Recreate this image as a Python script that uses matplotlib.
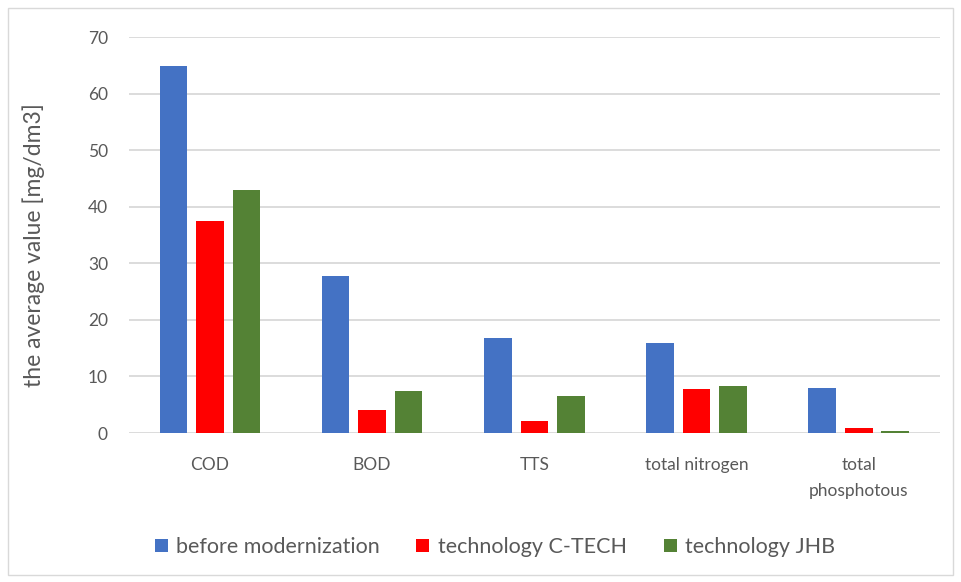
import numpy as np
import matplotlib.pyplot as plt
from matplotlib.patches import Rectangle

plt.rcParams['font.family'] = ['Lato', 'DejaVu Sans']

categories = ['COD', 'BOD', 'TTS', 'total nitrogen', 'total\nphosphotous']
before = [65.0, 27.8, 16.8, 15.9, 8.0]
ctech = [37.5, 4.0, 2.1, 7.8, 0.9]
jhb = [43.0, 7.5, 6.6, 8.3, 0.4]
series_names = ['before modernization', 'technology C-TECH', 'technology JHB']
colors = ['#4472C4', '#FF0000', '#548235']

fig = plt.figure(figsize=(9.61, 5.82), dpi=100)
ax = fig.add_axes([0.134, 0.256, 0.844, 0.68])

x = np.arange(len(categories))
w = 0.17
step = 0.225
for i, (vals, name, c) in enumerate(zip([before, ctech, jhb], series_names, colors)):
    ax.bar(x + (i - 1) * step, vals, width=w, color=c, label=name, zorder=3)

ax.set_ylim(0, 70)
ax.set_xlim(-0.5, 4.5)
ax.set_yticks(range(0, 71, 10))
ax.yaxis.grid(True, color='#d9d9d9', lw=1.3, zorder=0)
for s in ax.spines.values():
    s.set_visible(False)
ax.tick_params(axis='both', length=0, labelsize=12.5, colors='#595959')
ax.tick_params(axis='y', pad=15)
ax.tick_params(axis='x', pad=17)
ax.set_xticks(x)
ax.set_xticklabels(categories, linespacing=1.8)
ax.set_ylabel('the average value [mg/dm3]', fontsize=16.5, color='#595959')
ax.yaxis.set_label_coords(-0.103, 0.475)

fig.legend(loc='center', bbox_to_anchor=(0.515, 0.06), ncol=3, frameon=False,
           fontsize=15.5, labelcolor='#595959', handlelength=0.6, handleheight=0.6,
           handletextpad=0.4, columnspacing=1.7)

fig.patches.append(Rectangle((0.008, 0.012), 0.984, 0.975, transform=fig.transFigure,
                             fill=False, edgecolor='#d9d9d9', lw=1))

fig.savefig('out.png', dpi=100)
